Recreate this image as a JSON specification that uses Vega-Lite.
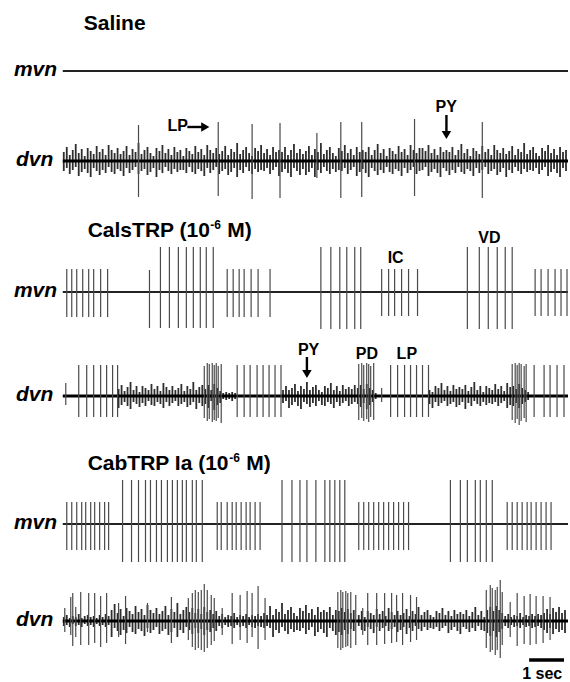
{
"$schema": "https://vega.github.io/schema/vega-lite/v6.json",
"width": 570, "height": 682, "padding": 0,
"autosize": {"type": "fit", "contains": "padding"},
"background": "white",
"config": {"view": {"stroke": null}},
"datasets": {
"base": [
{"k":"m1","t":63,"t2":570,"y":71},{"k":"d1","t":63,"t2":570,"y":161},
{"k":"m2","t":63,"t2":570,"y":292},{"k":"d2","t":63,"t2":570,"y":396},
{"k":"m3","t":63,"t2":570,"y":524},{"k":"d3","t":63,"t2":570,"y":621}
],
"noise": [
{"k":"d1","t":64,"a":152,"b":171},{"k":"d1","t":67,"a":147,"b":168},{"k":"d1","t":70,"a":155,"b":174},{"k":"d1","t":73,"a":150,"b":170},{"k":"d1","t":76,"a":144,"b":167},{"k":"d1","t":79,"a":153,"b":176},{"k":"d1","t":82,"a":149,"b":172},{"k":"d1","t":85,"a":156,"b":169},{"k":"d1","t":88,"a":148,"b":173},{"k":"d1","t":91,"a":151,"b":177},
{"k":"d1","t":94,"a":154,"b":168},{"k":"d1","t":97,"a":146,"b":171},{"k":"d1","t":100,"a":152,"b":175},{"k":"d1","t":103,"a":149,"b":170},{"k":"d1","t":106,"a":155,"b":173},{"k":"d1","t":109,"a":145,"b":167},{"k":"d1","t":112,"a":150,"b":172},{"k":"d1","t":115,"a":153,"b":174},{"k":"d1","t":118,"a":148,"b":169},{"k":"d1","t":121,"a":154,"b":171},
{"k":"d1","t":124,"a":151,"b":176},{"k":"d1","t":127,"a":146,"b":168},{"k":"d1","t":130,"a":155,"b":173},{"k":"d1","t":133,"a":149,"b":170},{"k":"d1","t":136,"a":152,"b":167},{"k":"d1","t":139,"a":143,"b":174},{"k":"d1","t":142,"a":154,"b":171},{"k":"d1","t":145,"a":150,"b":169},{"k":"d1","t":148,"a":147,"b":175},{"k":"d1","t":151,"a":153,"b":172},
{"k":"d1","t":154,"a":156,"b":168},{"k":"d1","t":157,"a":148,"b":177},{"k":"d1","t":160,"a":151,"b":170},{"k":"d1","t":163,"a":145,"b":173},{"k":"d1","t":166,"a":153,"b":167},{"k":"d1","t":169,"a":149,"b":171},{"k":"d1","t":172,"a":155,"b":174},{"k":"d1","t":175,"a":147,"b":169},{"k":"d1","t":178,"a":152,"b":172},{"k":"d1","t":181,"a":150,"b":170},
{"k":"d1","t":184,"a":156,"b":170},{"k":"d1","t":187,"a":148,"b":173},{"k":"d1","t":190,"a":151,"b":167},{"k":"d1","t":193,"a":154,"b":172},{"k":"d1","t":196,"a":146,"b":174},{"k":"d1","t":199,"a":152,"b":169},{"k":"d1","t":202,"a":149,"b":171},{"k":"d1","t":205,"a":155,"b":176},{"k":"d1","t":208,"a":145,"b":168},{"k":"d1","t":211,"a":150,"b":173},
{"k":"d1","t":214,"a":153,"b":170},{"k":"d1","t":217,"a":148,"b":167},{"k":"d1","t":220,"a":154,"b":174},{"k":"d1","t":223,"a":151,"b":171},{"k":"d1","t":226,"a":146,"b":169},{"k":"d1","t":229,"a":155,"b":175},{"k":"d1","t":232,"a":149,"b":172},{"k":"d1","t":235,"a":152,"b":168},{"k":"d1","t":238,"a":143,"b":177},{"k":"d1","t":241,"a":154,"b":170},
{"k":"d1","t":244,"a":150,"b":173},{"k":"d1","t":247,"a":147,"b":167},{"k":"d1","t":250,"a":153,"b":171},{"k":"d1","t":253,"a":156,"b":174},{"k":"d1","t":256,"a":148,"b":169},{"k":"d1","t":259,"a":151,"b":172},{"k":"d1","t":262,"a":145,"b":170},{"k":"d1","t":265,"a":153,"b":171},{"k":"d1","t":268,"a":149,"b":168},{"k":"d1","t":271,"a":155,"b":174},
{"k":"d1","t":274,"a":147,"b":170},{"k":"d1","t":277,"a":152,"b":167},{"k":"d1","t":280,"a":150,"b":176},{"k":"d1","t":283,"a":152,"b":172},{"k":"d1","t":286,"a":147,"b":169},{"k":"d1","t":289,"a":155,"b":173},{"k":"d1","t":292,"a":150,"b":177},{"k":"d1","t":295,"a":144,"b":168},{"k":"d1","t":298,"a":153,"b":171},{"k":"d1","t":301,"a":149,"b":175},
{"k":"d1","t":304,"a":154,"b":169},{"k":"d1","t":307,"a":151,"b":175},{"k":"d1","t":310,"a":146,"b":172},{"k":"d1","t":313,"a":155,"b":168},{"k":"d1","t":316,"a":149,"b":177},{"k":"d1","t":319,"a":152,"b":170},{"k":"d1","t":322,"a":143,"b":173},{"k":"d1","t":325,"a":154,"b":167},{"k":"d1","t":328,"a":150,"b":171},{"k":"d1","t":331,"a":147,"b":174},
{"k":"d1","t":334,"a":153,"b":169},{"k":"d1","t":337,"a":156,"b":172},{"k":"d1","t":340,"a":148,"b":170},{"k":"d1","t":343,"a":151,"b":171},{"k":"d1","t":346,"a":145,"b":168},{"k":"d1","t":349,"a":153,"b":174},{"k":"d1","t":352,"a":149,"b":170},{"k":"d1","t":355,"a":155,"b":167},{"k":"d1","t":358,"a":147,"b":176},{"k":"d1","t":361,"a":152,"b":172},
{"k":"d1","t":364,"a":150,"b":169},{"k":"d1","t":367,"a":152,"b":173},{"k":"d1","t":370,"a":147,"b":177},{"k":"d1","t":373,"a":155,"b":168},{"k":"d1","t":376,"a":150,"b":171},{"k":"d1","t":379,"a":144,"b":175},{"k":"d1","t":382,"a":153,"b":170},{"k":"d1","t":385,"a":149,"b":173},{"k":"d1","t":388,"a":156,"b":167},{"k":"d1","t":391,"a":148,"b":172},
{"k":"d1","t":394,"a":151,"b":174},{"k":"d1","t":397,"a":154,"b":169},{"k":"d1","t":400,"a":146,"b":171},{"k":"d1","t":403,"a":152,"b":176},{"k":"d1","t":406,"a":149,"b":168},{"k":"d1","t":409,"a":155,"b":173},{"k":"d1","t":412,"a":145,"b":170},{"k":"d1","t":415,"a":150,"b":167},{"k":"d1","t":418,"a":153,"b":174},{"k":"d1","t":421,"a":148,"b":171},
{"k":"d1","t":424,"a":148,"b":170},{"k":"d1","t":427,"a":151,"b":167},{"k":"d1","t":430,"a":145,"b":176},{"k":"d1","t":433,"a":153,"b":172},{"k":"d1","t":436,"a":149,"b":169},{"k":"d1","t":439,"a":155,"b":173},{"k":"d1","t":442,"a":147,"b":177},{"k":"d1","t":445,"a":152,"b":168},{"k":"d1","t":448,"a":150,"b":171},{"k":"d1","t":451,"a":152,"b":175},
{"k":"d1","t":454,"a":147,"b":170},{"k":"d1","t":457,"a":155,"b":173},{"k":"d1","t":460,"a":150,"b":167},{"k":"d1","t":463,"a":144,"b":172},{"k":"d1","t":466,"a":153,"b":174},{"k":"d1","t":469,"a":149,"b":169},{"k":"d1","t":472,"a":156,"b":171},{"k":"d1","t":475,"a":148,"b":176},{"k":"d1","t":478,"a":151,"b":168},{"k":"d1","t":481,"a":154,"b":173},
{"k":"d1","t":484,"a":146,"b":170},{"k":"d1","t":487,"a":152,"b":167},{"k":"d1","t":490,"a":149,"b":174},{"k":"d1","t":493,"a":155,"b":171},{"k":"d1","t":496,"a":145,"b":169},{"k":"d1","t":499,"a":150,"b":175},{"k":"d1","t":502,"a":153,"b":172},{"k":"d1","t":505,"a":148,"b":168},{"k":"d1","t":508,"a":154,"b":177},{"k":"d1","t":511,"a":151,"b":170},
{"k":"d1","t":514,"a":146,"b":173},{"k":"d1","t":517,"a":155,"b":167},{"k":"d1","t":520,"a":149,"b":171},{"k":"d1","t":523,"a":152,"b":174},{"k":"d1","t":526,"a":143,"b":169},{"k":"d1","t":529,"a":154,"b":172},{"k":"d1","t":532,"a":150,"b":170},{"k":"d1","t":535,"a":147,"b":171},{"k":"d1","t":538,"a":153,"b":168},{"k":"d1","t":541,"a":156,"b":174},
{"k":"d1","t":544,"a":148,"b":170},{"k":"d1","t":547,"a":151,"b":167},{"k":"d1","t":550,"a":145,"b":176},{"k":"d1","t":553,"a":153,"b":172},{"k":"d1","t":556,"a":149,"b":169},{"k":"d1","t":559,"a":155,"b":173},{"k":"d1","t":562,"a":147,"b":177},{"k":"d1","t":565,"a":152,"b":168},{"k":"d1","t":568,"a":150,"b":171},

{"k":"d2","t":119,"a":389,"b":408},{"k":"d2","t":122,"a":385,"b":405},{"k":"d2","t":125,"a":391,"b":402},{"k":"d2","t":128,"a":387,"b":406},{"k":"d2","t":131,"a":382,"b":409},{"k":"d2","t":134,"a":390,"b":402},{"k":"d2","t":137,"a":386,"b":404},{"k":"d2","t":140,"a":392,"b":407},{"k":"d2","t":143,"a":386,"b":403},{"k":"d2","t":146,"a":388,"b":406},
{"k":"d2","t":149,"a":390,"b":401},{"k":"d2","t":152,"a":384,"b":405},{"k":"d2","t":155,"a":389,"b":406},{"k":"d2","t":158,"a":386,"b":402},{"k":"d2","t":161,"a":391,"b":404},{"k":"d2","t":164,"a":383,"b":408},{"k":"d2","t":167,"a":387,"b":402},{"k":"d2","t":170,"a":390,"b":406},{"k":"d2","t":173,"a":386,"b":403},{"k":"d2","t":176,"a":390,"b":401},
{"k":"d2","t":179,"a":388,"b":406},{"k":"d2","t":182,"a":384,"b":404},{"k":"d2","t":185,"a":391,"b":402},{"k":"d2","t":188,"a":386,"b":407},{"k":"d2","t":191,"a":389,"b":405},{"k":"d2","t":194,"a":382,"b":402},{"k":"d2","t":197,"a":390,"b":409},{"k":"d2","t":200,"a":387,"b":403},{"k":"d2","t":203,"a":385,"b":406},
{"k":"d2","t":206,"a":389,"b":404},{"k":"d2","t":209,"a":385,"b":408},{"k":"d2","t":212,"a":390,"b":401},{"k":"d2","t":215,"a":384,"b":410},{"k":"d2","t":218,"a":388,"b":405},{"k":"d2","t":221,"a":391,"b":403},{"k":"d2","t":224,"a":393,"b":399},{"k":"d2","t":227,"a":392,"b":400},{"k":"d2","t":230,"a":393,"b":399},{"k":"d2","t":233,"a":392,"b":401},{"k":"d2","t":236,"a":393,"b":399},
{"k":"d2","t":284,"a":390,"b":403},{"k":"d2","t":287,"a":386,"b":401},{"k":"d2","t":290,"a":390,"b":408},{"k":"d2","t":293,"a":388,"b":405},{"k":"d2","t":296,"a":384,"b":402},{"k":"d2","t":299,"a":391,"b":406},{"k":"d2","t":302,"a":386,"b":409},{"k":"d2","t":305,"a":389,"b":402},{"k":"d2","t":308,"a":382,"b":404},{"k":"d2","t":311,"a":390,"b":407},
{"k":"d2","t":314,"a":387,"b":403},{"k":"d2","t":317,"a":385,"b":406},{"k":"d2","t":320,"a":390,"b":401},{"k":"d2","t":323,"a":392,"b":405},{"k":"d2","t":326,"a":386,"b":406},{"k":"d2","t":329,"a":388,"b":402},{"k":"d2","t":332,"a":383,"b":404},{"k":"d2","t":335,"a":390,"b":408},{"k":"d2","t":338,"a":386,"b":402},{"k":"d2","t":341,"a":391,"b":406},
{"k":"d2","t":344,"a":385,"b":403},{"k":"d2","t":347,"a":389,"b":401},{"k":"d2","t":350,"a":387,"b":406},{"k":"d2","t":353,"a":389,"b":404},{"k":"d2","t":356,"a":385,"b":402},
{"k":"d2","t":359,"a":388,"b":404},{"k":"d2","t":362,"a":385,"b":407},{"k":"d2","t":365,"a":389,"b":403},{"k":"d2","t":368,"a":384,"b":409},{"k":"d2","t":371,"a":388,"b":405},{"k":"d2","t":374,"a":390,"b":402},{"k":"d2","t":377,"a":393,"b":399},
{"k":"d2","t":431,"a":390,"b":404},{"k":"d2","t":434,"a":392,"b":408},{"k":"d2","t":437,"a":386,"b":402},{"k":"d2","t":440,"a":388,"b":406},{"k":"d2","t":443,"a":383,"b":403},{"k":"d2","t":446,"a":390,"b":401},{"k":"d2","t":449,"a":386,"b":406},{"k":"d2","t":452,"a":391,"b":404},{"k":"d2","t":455,"a":385,"b":402},{"k":"d2","t":458,"a":389,"b":407},
{"k":"d2","t":461,"a":387,"b":405},{"k":"d2","t":464,"a":389,"b":402},{"k":"d2","t":467,"a":385,"b":409},{"k":"d2","t":470,"a":391,"b":403},{"k":"d2","t":473,"a":387,"b":406},{"k":"d2","t":476,"a":382,"b":401},{"k":"d2","t":479,"a":390,"b":404},{"k":"d2","t":482,"a":386,"b":406},{"k":"d2","t":485,"a":392,"b":402},{"k":"d2","t":488,"a":386,"b":405},
{"k":"d2","t":491,"a":388,"b":403},{"k":"d2","t":494,"a":390,"b":404},{"k":"d2","t":497,"a":384,"b":402},{"k":"d2","t":500,"a":389,"b":406},{"k":"d2","t":503,"a":386,"b":403},{"k":"d2","t":506,"a":391,"b":401},{"k":"d2","t":509,"a":383,"b":408},{"k":"d2","t":512,"a":387,"b":405},
{"k":"d2","t":515,"a":386,"b":406},{"k":"d2","t":518,"a":389,"b":403},{"k":"d2","t":521,"a":384,"b":408},{"k":"d2","t":524,"a":388,"b":404},{"k":"d2","t":527,"a":390,"b":402},{"k":"d2","t":530,"a":392,"b":400},

{"k":"d3","t":64,"a":617,"b":626},{"k":"d3","t":67,"a":615,"b":625},{"k":"d3","t":70,"a":618,"b":627},{"k":"d3","t":73,"a":616,"b":624},{"k":"d3","t":76,"a":617,"b":626},{"k":"d3","t":79,"a":614,"b":625},{"k":"d3","t":82,"a":618,"b":627},{"k":"d3","t":85,"a":616,"b":624},{"k":"d3","t":88,"a":615,"b":626},{"k":"d3","t":91,"a":617,"b":625},
{"k":"d3","t":94,"a":616,"b":627},{"k":"d3","t":97,"a":618,"b":624},{"k":"d3","t":100,"a":615,"b":626},{"k":"d3","t":103,"a":617,"b":625},{"k":"d3","t":106,"a":614,"b":627},{"k":"d3","t":109,"a":616,"b":625},
{"k":"d3","t":112,"a":610,"b":637},{"k":"d3","t":115,"a":604,"b":628},{"k":"d3","t":118,"a":613,"b":631},{"k":"d3","t":121,"a":609,"b":635},{"k":"d3","t":124,"a":616,"b":630},{"k":"d3","t":127,"a":608,"b":633},{"k":"d3","t":130,"a":611,"b":627},{"k":"d3","t":133,"a":614,"b":632},{"k":"d3","t":136,"a":606,"b":634},{"k":"d3","t":139,"a":612,"b":629},
{"k":"d3","t":142,"a":609,"b":631},{"k":"d3","t":145,"a":615,"b":636},{"k":"d3","t":148,"a":605,"b":628},{"k":"d3","t":151,"a":610,"b":633},{"k":"d3","t":154,"a":613,"b":630},{"k":"d3","t":157,"a":608,"b":627},{"k":"d3","t":160,"a":614,"b":634},{"k":"d3","t":163,"a":611,"b":631},{"k":"d3","t":166,"a":606,"b":629},{"k":"d3","t":169,"a":615,"b":635},
{"k":"d3","t":172,"a":609,"b":632},{"k":"d3","t":175,"a":612,"b":628},{"k":"d3","t":178,"a":603,"b":637},{"k":"d3","t":181,"a":614,"b":630},{"k":"d3","t":184,"a":610,"b":633},{"k":"d3","t":187,"a":607,"b":627},
{"k":"d3","t":190,"a":612,"b":630},{"k":"d3","t":193,"a":608,"b":634},{"k":"d3","t":196,"a":613,"b":628},{"k":"d3","t":199,"a":609,"b":633},{"k":"d3","t":202,"a":614,"b":629},{"k":"d3","t":205,"a":607,"b":635},{"k":"d3","t":208,"a":612,"b":630},{"k":"d3","t":211,"a":610,"b":632},{"k":"d3","t":214,"a":614,"b":628},{"k":"d3","t":217,"a":611,"b":631},
{"k":"d3","t":220,"a":616,"b":626},{"k":"d3","t":223,"a":614,"b":628},{"k":"d3","t":226,"a":617,"b":625},{"k":"d3","t":229,"a":615,"b":627},{"k":"d3","t":232,"a":616,"b":626},{"k":"d3","t":235,"a":613,"b":628},{"k":"d3","t":238,"a":617,"b":625},{"k":"d3","t":241,"a":615,"b":627},{"k":"d3","t":244,"a":616,"b":626},{"k":"d3","t":247,"a":614,"b":628},
{"k":"d3","t":250,"a":617,"b":625},{"k":"d3","t":253,"a":615,"b":627},{"k":"d3","t":256,"a":616,"b":628},{"k":"d3","t":259,"a":614,"b":626},{"k":"d3","t":262,"a":616,"b":627},{"k":"d3","t":265,"a":613,"b":628},{"k":"d3","t":268,"a":615,"b":626},
{"k":"d3","t":271,"a":606,"b":628},{"k":"d3","t":274,"a":615,"b":637},{"k":"d3","t":277,"a":609,"b":630},{"k":"d3","t":280,"a":612,"b":633},{"k":"d3","t":283,"a":603,"b":627},{"k":"d3","t":286,"a":614,"b":631},{"k":"d3","t":289,"a":610,"b":634},{"k":"d3","t":292,"a":607,"b":629},{"k":"d3","t":295,"a":613,"b":632},{"k":"d3","t":298,"a":616,"b":630},
{"k":"d3","t":301,"a":608,"b":631},{"k":"d3","t":304,"a":611,"b":628},{"k":"d3","t":307,"a":605,"b":634},{"k":"d3","t":310,"a":613,"b":630},{"k":"d3","t":313,"a":609,"b":627},{"k":"d3","t":316,"a":615,"b":636},{"k":"d3","t":319,"a":607,"b":632},{"k":"d3","t":322,"a":612,"b":629},{"k":"d3","t":325,"a":610,"b":633},{"k":"d3","t":328,"a":612,"b":637},
{"k":"d3","t":331,"a":607,"b":628},{"k":"d3","t":334,"a":615,"b":631},{"k":"d3","t":337,"a":610,"b":635},
{"k":"d3","t":340,"a":611,"b":632},{"k":"d3","t":343,"a":608,"b":635},{"k":"d3","t":346,"a":612,"b":630},{"k":"d3","t":349,"a":609,"b":634},{"k":"d3","t":352,"a":613,"b":629},{"k":"d3","t":355,"a":610,"b":631},
{"k":"d3","t":360,"a":615,"b":626},{"k":"d3","t":363,"a":611,"b":630},{"k":"d3","t":366,"a":617,"b":631},{"k":"d3","t":369,"a":611,"b":627},{"k":"d3","t":372,"a":613,"b":629},{"k":"d3","t":375,"a":615,"b":633},{"k":"d3","t":378,"a":609,"b":627},{"k":"d3","t":381,"a":614,"b":631},{"k":"d3","t":384,"a":611,"b":628},{"k":"d3","t":387,"a":616,"b":626},
{"k":"d3","t":390,"a":608,"b":631},{"k":"d3","t":393,"a":612,"b":629},{"k":"d3","t":396,"a":615,"b":627},{"k":"d3","t":399,"a":611,"b":632},{"k":"d3","t":402,"a":615,"b":630},{"k":"d3","t":405,"a":613,"b":627},{"k":"d3","t":408,"a":609,"b":634},{"k":"d3","t":411,"a":616,"b":628},{"k":"d3","t":414,"a":611,"b":631},{"k":"d3","t":417,"a":614,"b":626},
{"k":"d3","t":420,"a":607,"b":629},{"k":"d3","t":423,"a":615,"b":631},{"k":"d3","t":426,"a":612,"b":627},{"k":"d3","t":429,"a":610,"b":630},{"k":"d3","t":432,"a":615,"b":628},{"k":"d3","t":435,"a":617,"b":629},{"k":"d3","t":438,"a":611,"b":627},{"k":"d3","t":441,"a":613,"b":631},{"k":"d3","t":444,"a":608,"b":628},{"k":"d3","t":447,"a":615,"b":626},
{"k":"d3","t":450,"a":611,"b":633},{"k":"d3","t":453,"a":616,"b":630},{"k":"d3","t":456,"a":610,"b":627},{"k":"d3","t":459,"a":614,"b":631},{"k":"d3","t":462,"a":612,"b":634},{"k":"d3","t":465,"a":614,"b":627},{"k":"d3","t":468,"a":610,"b":629},{"k":"d3","t":471,"a":616,"b":632},{"k":"d3","t":474,"a":612,"b":628},{"k":"d3","t":477,"a":607,"b":631},
{"k":"d3","t":480,"a":615,"b":626},{"k":"d3","t":483,"a":611,"b":630},{"k":"d3","t":486,"a":617,"b":631},
{"k":"d3","t":489,"a":610,"b":633},{"k":"d3","t":492,"a":607,"b":636},{"k":"d3","t":495,"a":611,"b":631},{"k":"d3","t":498,"a":606,"b":637},{"k":"d3","t":501,"a":610,"b":632},{"k":"d3","t":504,"a":613,"b":629},
{"k":"d3","t":507,"a":616,"b":626},{"k":"d3","t":510,"a":614,"b":628},{"k":"d3","t":513,"a":617,"b":625},{"k":"d3","t":516,"a":615,"b":627},{"k":"d3","t":519,"a":616,"b":626},{"k":"d3","t":522,"a":613,"b":628},{"k":"d3","t":525,"a":617,"b":625},{"k":"d3","t":528,"a":615,"b":627},{"k":"d3","t":531,"a":616,"b":626},{"k":"d3","t":534,"a":614,"b":628},
{"k":"d3","t":537,"a":616,"b":627},{"k":"d3","t":540,"a":614,"b":626},{"k":"d3","t":543,"a":615,"b":628},
{"k":"d3","t":546,"a":613,"b":630},{"k":"d3","t":549,"a":609,"b":633},{"k":"d3","t":552,"a":614,"b":628},{"k":"d3","t":555,"a":608,"b":634},{"k":"d3","t":558,"a":612,"b":629},{"k":"d3","t":561,"a":607,"b":632},{"k":"d3","t":564,"a":613,"b":630},{"k":"d3","t":567,"a":610,"b":633}
],
"spikes": [
{"k":"d1","t":139,"a":125,"b":197},{"k":"d1","t":219,"a":122,"b":196},{"k":"d1","t":253,"a":124,"b":199},{"k":"d1","t":281,"a":123,"b":198},{"k":"d1","t":318,"a":133,"b":178},{"k":"d1","t":342,"a":122,"b":198},{"k":"d1","t":363,"a":122,"b":197},{"k":"d1","t":416,"a":119,"b":196},{"k":"d1","t":484,"a":122,"b":198},

{"k":"m2","t":67,"a":269,"b":317},{"k":"m2","t":72,"a":269,"b":317},{"k":"m2","t":77,"a":269,"b":317},{"k":"m2","t":83,"a":269,"b":317},{"k":"m2","t":89,"a":269,"b":317},{"k":"m2","t":94,"a":269,"b":317},{"k":"m2","t":101,"a":269,"b":317},{"k":"m2","t":108,"a":269,"b":317},
{"k":"m2","t":150,"a":270,"b":328},{"k":"m2","t":161,"a":247,"b":328},{"k":"m2","t":170,"a":247,"b":328},{"k":"m2","t":179,"a":247,"b":328},{"k":"m2","t":187,"a":247,"b":328},{"k":"m2","t":194,"a":247,"b":328},{"k":"m2","t":201,"a":247,"b":328},{"k":"m2","t":207,"a":247,"b":328},{"k":"m2","t":214,"a":247,"b":328},
{"k":"m2","t":228,"a":269,"b":317},{"k":"m2","t":234,"a":269,"b":317},{"k":"m2","t":240,"a":269,"b":317},{"k":"m2","t":245,"a":269,"b":317},{"k":"m2","t":252,"a":269,"b":317},{"k":"m2","t":259,"a":269,"b":317},{"k":"m2","t":271,"a":269,"b":317},
{"k":"m2","t":322,"a":247,"b":329},{"k":"m2","t":332,"a":247,"b":329},{"k":"m2","t":341,"a":247,"b":329},{"k":"m2","t":348,"a":247,"b":329},{"k":"m2","t":356,"a":247,"b":329},{"k":"m2","t":362,"a":247,"b":329},
{"k":"m2","t":383,"a":269,"b":316},{"k":"m2","t":390,"a":269,"b":316},{"k":"m2","t":396,"a":269,"b":316},{"k":"m2","t":403,"a":269,"b":316},{"k":"m2","t":410,"a":269,"b":316},{"k":"m2","t":419,"a":269,"b":316},
{"k":"m2","t":469,"a":247,"b":329},{"k":"m2","t":481,"a":247,"b":329},{"k":"m2","t":490,"a":247,"b":329},{"k":"m2","t":499,"a":247,"b":329},{"k":"m2","t":507,"a":247,"b":329},{"k":"m2","t":514,"a":247,"b":329},
{"k":"m2","t":537,"a":269,"b":316},{"k":"m2","t":543,"a":269,"b":316},{"k":"m2","t":550,"a":269,"b":316},{"k":"m2","t":557,"a":269,"b":316},{"k":"m2","t":563,"a":269,"b":316},{"k":"m2","t":569,"a":269,"b":316},

{"k":"d2","t":66,"a":383,"b":405},
{"k":"d2","t":79,"a":365,"b":417},{"k":"d2","t":87,"a":365,"b":417},{"k":"d2","t":94,"a":365,"b":417},{"k":"d2","t":101,"a":365,"b":417},{"k":"d2","t":107,"a":365,"b":417},{"k":"d2","t":113,"a":365,"b":417},{"k":"d2","t":118,"a":365,"b":417},
{"k":"d2","t":205,"a":366,"b":418},{"k":"d2","t":208,"a":363,"b":421},{"k":"d2","t":210,"a":364,"b":419},{"k":"d2","t":213,"a":363,"b":422},{"k":"d2","t":215,"a":365,"b":420},{"k":"d2","t":217,"a":363,"b":421},{"k":"d2","t":219,"a":366,"b":418},{"k":"d2","t":222,"a":364,"b":423},
{"k":"d2","t":238,"a":365,"b":417},{"k":"d2","t":245,"a":365,"b":417},{"k":"d2","t":251,"a":365,"b":417},{"k":"d2","t":258,"a":365,"b":417},{"k":"d2","t":264,"a":365,"b":417},{"k":"d2","t":270,"a":365,"b":417},{"k":"d2","t":276,"a":365,"b":417},{"k":"d2","t":282,"a":365,"b":417},
{"k":"d2","t":360,"a":364,"b":420},{"k":"d2","t":363,"a":363,"b":418},{"k":"d2","t":365,"a":365,"b":421},{"k":"d2","t":368,"a":363,"b":419},{"k":"d2","t":370,"a":364,"b":422},{"k":"d2","t":372,"a":366,"b":417},{"k":"d2","t":375,"a":363,"b":420},
{"k":"d2","t":383,"a":388,"b":402},
{"k":"d2","t":392,"a":365,"b":417},{"k":"d2","t":399,"a":365,"b":417},{"k":"d2","t":406,"a":365,"b":417},{"k":"d2","t":412,"a":365,"b":417},{"k":"d2","t":418,"a":365,"b":417},{"k":"d2","t":424,"a":365,"b":417},{"k":"d2","t":430,"a":365,"b":417},
{"k":"d2","t":514,"a":364,"b":420},{"k":"d2","t":517,"a":363,"b":423},{"k":"d2","t":519,"a":365,"b":419},{"k":"d2","t":521,"a":363,"b":425},{"k":"d2","t":523,"a":364,"b":421},{"k":"d2","t":526,"a":366,"b":418},{"k":"d2","t":528,"a":364,"b":422},
{"k":"d2","t":536,"a":365,"b":417},{"k":"d2","t":546,"a":365,"b":417},{"k":"d2","t":552,"a":365,"b":417},{"k":"d2","t":559,"a":365,"b":417},{"k":"d2","t":566,"a":365,"b":417},

{"k":"m3","t":67,"a":502,"b":550},{"k":"m3","t":72,"a":502,"b":550},{"k":"m3","t":77,"a":502,"b":550},{"k":"m3","t":82,"a":502,"b":550},{"k":"m3","t":86,"a":502,"b":550},{"k":"m3","t":91,"a":502,"b":550},{"k":"m3","t":95,"a":502,"b":550},{"k":"m3","t":100,"a":502,"b":550},{"k":"m3","t":105,"a":502,"b":550},{"k":"m3","t":109,"a":502,"b":550},
{"k":"m3","t":123,"a":480,"b":562},{"k":"m3","t":132,"a":480,"b":562},{"k":"m3","t":139,"a":480,"b":562},{"k":"m3","t":146,"a":480,"b":562},{"k":"m3","t":151,"a":480,"b":562},{"k":"m3","t":157,"a":480,"b":562},{"k":"m3","t":162,"a":480,"b":562},{"k":"m3","t":168,"a":480,"b":562},{"k":"m3","t":173,"a":480,"b":562},{"k":"m3","t":178,"a":480,"b":562},{"k":"m3","t":183,"a":480,"b":562},{"k":"m3","t":187,"a":480,"b":562},{"k":"m3","t":193,"a":480,"b":562},{"k":"m3","t":197,"a":480,"b":562},{"k":"m3","t":203,"a":480,"b":562},
{"k":"m3","t":218,"a":502,"b":550},{"k":"m3","t":222,"a":502,"b":550},{"k":"m3","t":228,"a":502,"b":550},{"k":"m3","t":233,"a":502,"b":550},{"k":"m3","t":237,"a":502,"b":550},{"k":"m3","t":242,"a":502,"b":550},{"k":"m3","t":247,"a":502,"b":550},{"k":"m3","t":251,"a":502,"b":550},{"k":"m3","t":256,"a":502,"b":550},{"k":"m3","t":261,"a":502,"b":550},
{"k":"m3","t":283,"a":480,"b":562},{"k":"m3","t":293,"a":480,"b":562},{"k":"m3","t":301,"a":480,"b":562},{"k":"m3","t":308,"a":480,"b":562},{"k":"m3","t":317,"a":480,"b":562},{"k":"m3","t":326,"a":480,"b":562},{"k":"m3","t":331,"a":480,"b":562},{"k":"m3","t":336,"a":480,"b":562},{"k":"m3","t":341,"a":480,"b":562},{"k":"m3","t":346,"a":480,"b":562},
{"k":"m3","t":360,"a":502,"b":550},{"k":"m3","t":365,"a":502,"b":550},{"k":"m3","t":370,"a":502,"b":550},{"k":"m3","t":375,"a":502,"b":550},{"k":"m3","t":380,"a":502,"b":550},{"k":"m3","t":385,"a":502,"b":550},{"k":"m3","t":390,"a":502,"b":550},{"k":"m3","t":395,"a":502,"b":550},{"k":"m3","t":400,"a":502,"b":550},{"k":"m3","t":405,"a":502,"b":550},{"k":"m3","t":410,"a":502,"b":550},
{"k":"m3","t":452,"a":480,"b":562},{"k":"m3","t":462,"a":480,"b":562},{"k":"m3","t":469,"a":480,"b":562},{"k":"m3","t":477,"a":480,"b":562},{"k":"m3","t":482,"a":480,"b":562},{"k":"m3","t":488,"a":480,"b":562},{"k":"m3","t":494,"a":480,"b":562},
{"k":"m3","t":509,"a":502,"b":550},{"k":"m3","t":514,"a":502,"b":550},{"k":"m3","t":519,"a":502,"b":550},{"k":"m3","t":524,"a":502,"b":550},{"k":"m3","t":529,"a":502,"b":550},{"k":"m3","t":533,"a":502,"b":550},{"k":"m3","t":538,"a":502,"b":550},{"k":"m3","t":543,"a":502,"b":550},{"k":"m3","t":548,"a":502,"b":550},{"k":"m3","t":553,"a":502,"b":550},

{"k":"d3","t":65,"a":608,"b":632},{"k":"d3","t":71,"a":597,"b":635},{"k":"d3","t":73,"a":593,"b":646},{"k":"d3","t":76,"a":607,"b":637},{"k":"d3","t":81,"a":592,"b":645},{"k":"d3","t":89,"a":593,"b":645},{"k":"d3","t":95,"a":593,"b":643},{"k":"d3","t":101,"a":596,"b":647},{"k":"d3","t":107,"a":593,"b":643},{"k":"d3","t":119,"a":603,"b":637},{"k":"d3","t":126,"a":596,"b":644},
{"k":"d3","t":148,"a":603,"b":632},{"k":"d3","t":172,"a":597,"b":643},
{"k":"d3","t":189,"a":598,"b":640},{"k":"d3","t":193,"a":593,"b":647},{"k":"d3","t":196,"a":590,"b":650},{"k":"d3","t":199,"a":592,"b":648},{"k":"d3","t":202,"a":590,"b":650},{"k":"d3","t":205,"a":584,"b":652},{"k":"d3","t":208,"a":590,"b":648},{"k":"d3","t":212,"a":595,"b":645},{"k":"d3","t":215,"a":598,"b":641},
{"k":"d3","t":223,"a":608,"b":635},{"k":"d3","t":233,"a":593,"b":644},{"k":"d3","t":241,"a":595,"b":640},{"k":"d3","t":248,"a":591,"b":643},{"k":"d3","t":253,"a":593,"b":637},{"k":"d3","t":259,"a":586,"b":649},{"k":"d3","t":266,"a":598,"b":640},
{"k":"d3","t":339,"a":592,"b":648},{"k":"d3","t":342,"a":590,"b":650},{"k":"d3","t":344,"a":592,"b":648},{"k":"d3","t":347,"a":591,"b":647},{"k":"d3","t":349,"a":593,"b":646},{"k":"d3","t":352,"a":592,"b":648},{"k":"d3","t":357,"a":595,"b":645},
{"k":"d3","t":364,"a":608,"b":635},{"k":"d3","t":369,"a":593,"b":645},{"k":"d3","t":378,"a":593,"b":645},{"k":"d3","t":386,"a":593,"b":644},{"k":"d3","t":393,"a":593,"b":643},{"k":"d3","t":398,"a":595,"b":642},{"k":"d3","t":404,"a":593,"b":645},{"k":"d3","t":412,"a":595,"b":642},{"k":"d3","t":418,"a":597,"b":640},
{"k":"d3","t":488,"a":590,"b":648},{"k":"d3","t":492,"a":585,"b":652},{"k":"d3","t":494,"a":588,"b":650},{"k":"d3","t":497,"a":590,"b":655},{"k":"d3","t":499,"a":587,"b":650},{"k":"d3","t":502,"a":580,"b":658},{"k":"d3","t":504,"a":592,"b":645},
{"k":"d3","t":512,"a":602,"b":637},{"k":"d3","t":519,"a":593,"b":646},{"k":"d3","t":526,"a":596,"b":644},{"k":"d3","t":532,"a":594,"b":645},{"k":"d3","t":538,"a":596,"b":644},{"k":"d3","t":545,"a":596,"b":643},{"k":"d3","t":552,"a":597,"b":640}
],
"arrows": [
{"t":188,"t2":204,"y":127,"y2":127},
{"t":448,"t2":448,"y":115,"y2":132},
{"t":308,"t2":308,"y":357,"y2":372}
],
"scalebar": [{"t":531,"t2":566,"y":660}],
"tracelabels": [
{"text":"mvn","t":14,"y":76},{"text":"dvn","t":16,"y":166},
{"text":"mvn","t":14,"y":297},{"text":"dvn","t":16,"y":401},
{"text":"mvn","t":14,"y":529},{"text":"dvn","t":16,"y":626}
],
"titles": [
{"text":"Saline","t":84,"y":30},
{"text":"CalsTRP (10","t":88,"y":237},{"text":"M)","t":228,"y":237},
{"text":"CabTRP Ia (10","t":88,"y":470},{"text":"M)","t":247,"y":470}
],
"supers": [
{"text":"-6","t":211,"y":229},{"text":"-6","t":230,"y":462}
],
"notes": [
{"text":"LP","t":168,"y":131},{"text":"PY","t":437,"y":112},
{"text":"IC","t":389,"y":263},{"text":"VD","t":480,"y":243},
{"text":"PY","t":299,"y":355},{"text":"PD","t":357,"y":359},{"text":"LP","t":398,"y":359},
{"text":"1 sec","t":524,"y":679}
]
},
"layer": [
{"data":{"name":"noise"},"mark":{"type":"rule","color":"#2e2e2e","strokeWidth":1.8},
 "encoding":{"x":{"field":"t","type":"quantitative","scale":{"domain":[0,570],"nice":false,"zero":false},"axis":null},
 "y":{"field":"a","type":"quantitative","scale":{"domain":[0,682],"reverse":true,"nice":false,"zero":false},"axis":null},"y2":{"field":"b"}}},
{"data":{"name":"base"},"transform":[{"filter":"datum.k[0]=='m'"}],"mark":{"type":"rule","color":"#222","strokeWidth":1.8},
 "encoding":{"x":{"field":"t","type":"quantitative"},"x2":{"field":"t2"},"y":{"field":"y","type":"quantitative"}}},
{"data":{"name":"base"},"transform":[{"filter":"datum.k[0]=='d'"}],"mark":{"type":"rule","color":"#000","strokeWidth":3.2},
 "encoding":{"x":{"field":"t","type":"quantitative"},"x2":{"field":"t2"},"y":{"field":"y","type":"quantitative"}}},
{"data":{"name":"spikes"},"mark":{"type":"rule","color":"#4a4a4a","strokeWidth":1.2},
 "encoding":{"x":{"field":"t","type":"quantitative"},"y":{"field":"a","type":"quantitative"},"y2":{"field":"b"}}},
{"data":{"name":"arrows"},"mark":{"type":"rule","color":"#000","strokeWidth":2.4},
 "encoding":{"x":{"field":"t","type":"quantitative"},"x2":{"field":"t2"},"y":{"field":"y","type":"quantitative"},"y2":{"field":"y2"}}},
{"data":{"values":[{"t":206,"y":127}]},"mark":{"type":"point","shape":"triangle-right","filled":true,"color":"#000","size":90,"opacity":1},
 "encoding":{"x":{"field":"t","type":"quantitative"},"y":{"field":"y","type":"quantitative"}}},
{"data":{"values":[{"t":448,"y":135},{"t":308,"y":374}]},"mark":{"type":"point","shape":"triangle-down","filled":true,"color":"#000","size":90,"opacity":1},
 "encoding":{"x":{"field":"t","type":"quantitative"},"y":{"field":"y","type":"quantitative"}}},
{"data":{"name":"scalebar"},"mark":{"type":"rule","color":"#000","strokeWidth":3.5},
 "encoding":{"x":{"field":"t","type":"quantitative"},"x2":{"field":"t2"},"y":{"field":"y","type":"quantitative"}}},
{"data":{"name":"tracelabels"},"mark":{"type":"text","font":"Liberation Sans","fontSize":21,"fontWeight":"bold","fontStyle":"italic","align":"left","baseline":"alphabetic","color":"#000"},
 "encoding":{"x":{"field":"t","type":"quantitative"},"y":{"field":"y","type":"quantitative"},"text":{"field":"text"}}},
{"data":{"name":"titles"},"mark":{"type":"text","font":"Liberation Sans","fontSize":21,"fontWeight":"bold","align":"left","baseline":"alphabetic","color":"#000"},
 "encoding":{"x":{"field":"t","type":"quantitative"},"y":{"field":"y","type":"quantitative"},"text":{"field":"text"}}},
{"data":{"name":"supers"},"mark":{"type":"text","font":"Liberation Sans","fontSize":12,"fontWeight":"bold","align":"left","baseline":"alphabetic","color":"#000"},
 "encoding":{"x":{"field":"t","type":"quantitative"},"y":{"field":"y","type":"quantitative"},"text":{"field":"text"}}},
{"data":{"name":"notes"},"mark":{"type":"text","font":"Liberation Sans","fontSize":16,"fontWeight":"bold","align":"left","baseline":"alphabetic","color":"#000"},
 "encoding":{"x":{"field":"t","type":"quantitative"},"y":{"field":"y","type":"quantitative"},"text":{"field":"text"}}}
]
}
